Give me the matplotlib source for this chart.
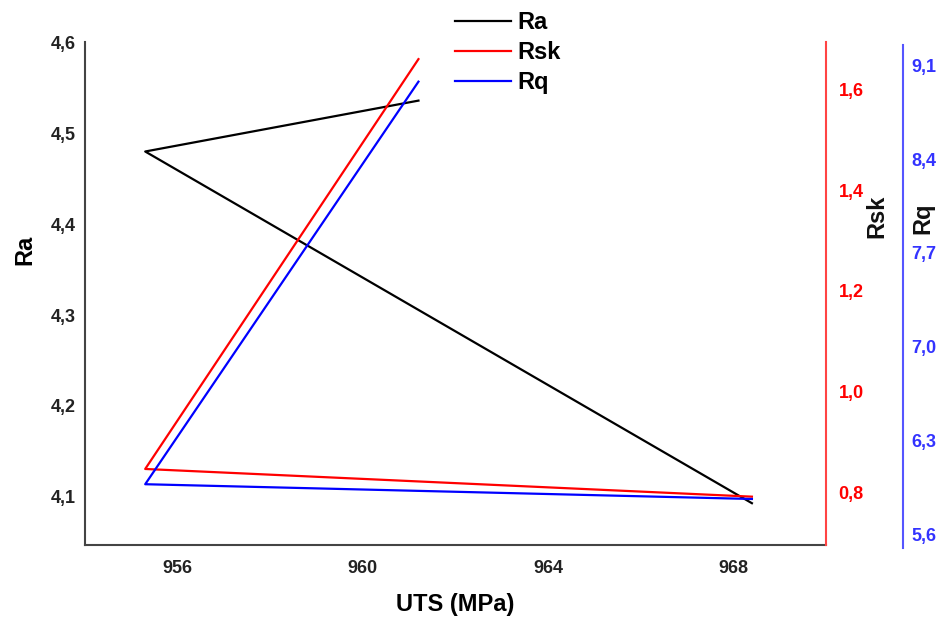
import matplotlib
matplotlib.use("Agg")
import matplotlib.pyplot as plt
from matplotlib.ticker import FuncFormatter, FixedLocator

plt.rcParams['font.family'] = ['Liberation Sans', 'DejaVu Sans']
plt.rcParams['font.weight'] = 'bold'

# Data
uts = [961.2, 955.3, 968.4]
ra = [4.536, 4.480, 4.093]
rsk = [1.660, 0.846, 0.791]
rq = [8.976, 5.978, 5.868]

x_ticks = [956, 960, 964, 968]
ra_ticks = [4.1, 4.2, 4.3, 4.4, 4.5, 4.6]
rsk_ticks = [0.8, 1.0, 1.2, 1.4, 1.6]
rq_ticks = [5.6, 6.3, 7.0, 7.7, 8.4, 9.1]

W, H = 948, 625
fig = plt.figure(figsize=(W / 100, H / 100), dpi=100)

def px_rect(l, t, r, b):
    return [l / W, 1 - b / H, (r - l) / W, (b - t) / H]

comma = FuncFormatter(lambda v, p: f"{v:.1f}".replace('.', ','))
intfmt = FuncFormatter(lambda v, p: f"{v:.0f}")

ax = fig.add_axes(px_rect(85, 42, 826, 545))
ax2 = ax.twinx()
ax3 = fig.add_axes(px_rect(85, 45, 826, 548), sharex=ax)
ax3.patch.set_visible(False)

l1, = ax.plot(uts, ra, color='black', lw=1.6, label='Ra')
l2, = ax2.plot(uts, rsk, color='#ff0000', lw=1.6, label='Rsk')
l3, = ax3.plot(uts, rq, color='#0000ff', lw=1.6, label='Rq')

ax.set_xlim(954, 970)
ax.set_ylim(4.047, 4.6005)
ax2.set_ylim(0.695, 1.694)
ax3.set_ylim(5.503, 9.249)

ax.xaxis.set_major_locator(FixedLocator(x_ticks))
ax.xaxis.set_major_formatter(intfmt)
ax.yaxis.set_major_locator(FixedLocator(ra_ticks))
ax.yaxis.set_major_formatter(comma)
ax2.yaxis.set_major_locator(FixedLocator(rsk_ticks))
ax2.yaxis.set_major_formatter(comma)
ax3.yaxis.set_major_locator(FixedLocator(rq_ticks))
ax3.yaxis.set_major_formatter(comma)

# Spines
for s in ['top', 'right']:
    ax.spines[s].set_visible(False)
ax.spines['left'].set_color('#444444')
ax.spines['bottom'].set_color('#444444')
ax.spines['left'].set_linewidth(1.5)
ax.spines['bottom'].set_linewidth(1.5)

for s in ['top', 'left', 'bottom']:
    ax2.spines[s].set_visible(False)
ax2.spines['right'].set_color('#ff4444')
ax2.spines['right'].set_linewidth(1.5)

for s in ['top', 'left', 'bottom']:
    ax3.spines[s].set_visible(False)
ax3.spines['right'].set_visible(True)
ax3.spines['right'].set_position(('axes', (903 - 85) / (826 - 85)))
ax3.spines['right'].set_color('#5555ff')
ax3.spines['right'].set_linewidth(1.5)
ax3.yaxis.set_label_position('right')
ax3.yaxis.tick_right()
ax3.xaxis.set_visible(False)

ax.tick_params(axis='x', length=0, pad=11, labelsize=13, labelcolor='#222222')
ax.tick_params(axis='y', length=0, pad=7, labelsize=13, labelcolor='#222222')
ax2.tick_params(axis='y', length=0, pad=9, labelsize=13, labelcolor='#ff0000')
ax3.tick_params(axis='y', length=0, pad=6, labelsize=13, labelcolor='#3333ff')
for a in (ax, ax2, ax3):
    for lab in a.get_xticklabels() + a.get_yticklabels():
        lab.set_fontweight('bold')

LBL = 17
ax.set_xlabel('UTS (MPa)', fontsize=LBL, fontweight='bold')
ax.xaxis.set_label_coords((455 - 85) / 741, -(605 - 545) / 503)
ax.xaxis.label.set_va('center')

ax.set_ylabel('Ra', fontsize=LBL, fontweight='bold')
ax.yaxis.set_label_coords((25 - 85) / 741, (545 - 250) / 503)
ax.yaxis.label.set_va('center')

ax2.set_ylabel('Rsk', fontsize=LBL, fontweight='bold', color='#111111')
ax2.yaxis.set_label_coords((877 - 85) / 741, (545 - 216) / 503)
ax2.yaxis.label.set_va('center')

ax3.set_ylabel('Rq', fontsize=LBL, fontweight='bold', color='#111111')
ax3.yaxis.set_label_coords((923 - 85) / 741, (548 - 218) / 503)
ax3.yaxis.label.set_va('center')

fig.legend(handles=[l1, l2, l3], loc='upper left',
           bbox_to_anchor=(443 / W, 1 + 1 / H), frameon=False,
           handlelength=2.4, handletextpad=0.25,
           labelspacing=0.3, borderpad=0.0,
           prop={'weight': 'bold', 'size': 17})

fig.savefig('out.png', dpi=100)
